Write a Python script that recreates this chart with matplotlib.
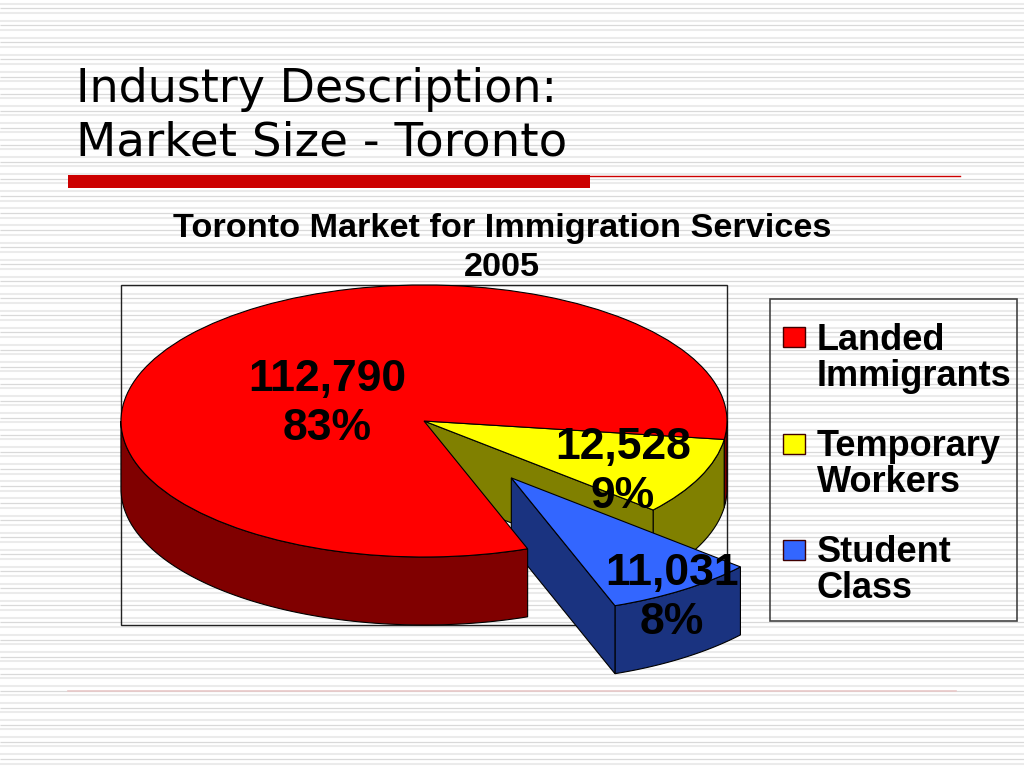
import numpy as np
import matplotlib
matplotlib.use('Agg')
import matplotlib.pyplot as plt
from matplotlib.patches import Polygon, Rectangle

# data
categories = ['Landed\nImmigrants', 'Temporary\nWorkers', 'Student\nClass']
values = [112790, 12528, 11031]
percents = [83, 9, 8]
top_colors = ['#ff0000', '#ffff00', '#3366ff']
side_colors = ['#800000', '#808000', '#1a3380']

W, H = 1024, 768
CX, CY = 424, 421      # pie centre in pixels
RX, RY = 303, 136      # ellipse radii in pixels
DEPTH = 0.5            # wall height, in pie units
EXPLODE = [0, 0, 0.508]
START = 290


def px_x(x):
    return (x - CX) / RX


def px_y(y):
    return (CY - y) / RY


def rim(a0, a1):
    t = np.radians(np.linspace(a0, a1, 80))
    return np.cos(t), np.sin(t)


def add_wall(ax, xs, ys, color, z):
    # extrude an outline downward by the pie depth
    pts = list(zip(xs, ys)) + list(zip(xs[::-1], ys[::-1] - DEPTH))
    ax.add_patch(Polygon(pts, closed=True, facecolor=color, edgecolor='black', lw=0.8, zorder=z))


fig = plt.figure(figsize=(W / 100, H / 100), dpi=100, facecolor='white')

# slide layer, in pixels
bg = fig.add_axes([0, 0, 1, 1])
bg.set_xlim(0, W)
bg.set_ylim(H, 0)
bg.axis('off')

# background stripes come in groups of three
group_y = np.arange(3.7, H, 17.06)
bg.hlines(group_y, 0, W, color='#ebebeb', lw=1.5, zorder=1)
bg.hlines(group_y + 4.6, 0, W, color='#d9d9d9', lw=0.9, zorder=1)
bg.hlines(group_y + 9.2, 0, W, color='#ebebeb', lw=1.5, zorder=1)

bg.text(76, 89, 'Industry Description:', family='DejaVu Sans', fontsize=33.1, va='center', color='black', zorder=5)
bg.text(76, 143, 'Market Size - Toronto', family='DejaVu Sans', fontsize=33.7, va='center', color='black', zorder=5)
bg.add_patch(Rectangle((68, 175), 522, 13, facecolor='#cc0000', edgecolor='none', zorder=3))
bg.plot([590, 960], [175.5, 175.5], color='#cc0000', lw=1, zorder=3)
bg.plot([68, 956], [691, 691], color='#e8c8c8', lw=1.2, zorder=3)

bg.text(502, 228, 'Toronto Market for Immigration Services', family='Liberation Sans', fontweight='bold',
        fontsize=24.7, ha='center', va='center', zorder=5)
bg.text(502, 268, '2005', family='Liberation Sans', fontweight='bold', fontsize=24.7, ha='center', va='center', zorder=5)

# plot frame and legend box
bg.add_patch(Rectangle((121, 285), 606, 340, facecolor='none', edgecolor='#222222', lw=1, zorder=2))
bg.add_patch(Rectangle((770, 299), 247, 322, facecolor='none', edgecolor='#444444', lw=1.2, zorder=2))

legend_y = [337, 444, 550]
for name, color, y in zip(categories, top_colors, legend_y):
    bg.add_patch(Rectangle((783, y - 10), 22, 20, facecolor=color, edgecolor='#400000', lw=1, zorder=3))
    first, second = name.split('\n')
    bg.text(817, y + 3, first, family='Liberation Sans', fontweight='bold', fontsize=26, va='center', zorder=5)
    bg.text(817, y + 39, second, family='Liberation Sans', fontweight='bold', fontsize=26, va='center', zorder=5)

# pie layer, data units are the ellipse radii
ax = fig.add_axes([0, 0, 1, 1], facecolor='none')
wedges, _ = ax.pie(values, colors=top_colors, explode=EXPLODE, startangle=START, counterclock=False,
                   wedgeprops={'edgecolor': 'black', 'linewidth': 0.8})
ax.set_aspect('auto')
ax.set_xlim(px_x(0), px_x(W))
ax.set_ylim(px_y(H), px_y(0))

# slice angles from the values, clockwise from START
shares = np.array(values) / sum(values) * 360
ends = START - np.cumsum(shares)
starts = ends + shares

# small red strip at the far right, behind the yellow walls
xs, ys = rim(ends[0], 0)
add_wall(ax, xs, ys, side_colors[0], 2)

# yellow walls, they sit at the back
xs, ys = rim(ends[1], starts[1])
add_wall(ax, xs, ys, side_colors[1], 3)
add_wall(ax, np.array([0, xs[0]]), np.array([0, ys[0]]), side_colors[1], 3)
wedges[1].set_zorder(4)

# blue wedge, pulled out along its bisector
mid = np.radians((ends[2] + starts[2]) / 2)
ox, oy = EXPLODE[2] * np.cos(mid), EXPLODE[2] * np.sin(mid)
xs, ys = rim(ends[2], starts[2])
add_wall(ax, xs + ox, ys + oy, side_colors[2], 5)
add_wall(ax, np.array([ox, ox + xs[0]]), np.array([oy, oy + ys[0]]), side_colors[2], 5)
wedges[2].set_zorder(6)

# red goes on top of the blue wall
xs, ys = rim(180, starts[0])
add_wall(ax, xs, ys, side_colors[0], 7)
wedges[0].set_zorder(8)

label_pos = [(327, 404), (623, 472), (672, 598)]
for v, p, (lx, ly) in zip(values, percents, label_pos):
    ax.text(px_x(lx), px_y(ly), f'{v:,}\n{p}%', family='Liberation Sans', fontweight='bold', fontsize=32,
            ha='center', va='center', linespacing=1.27, zorder=10)

fig.savefig('out.png', dpi=100)
